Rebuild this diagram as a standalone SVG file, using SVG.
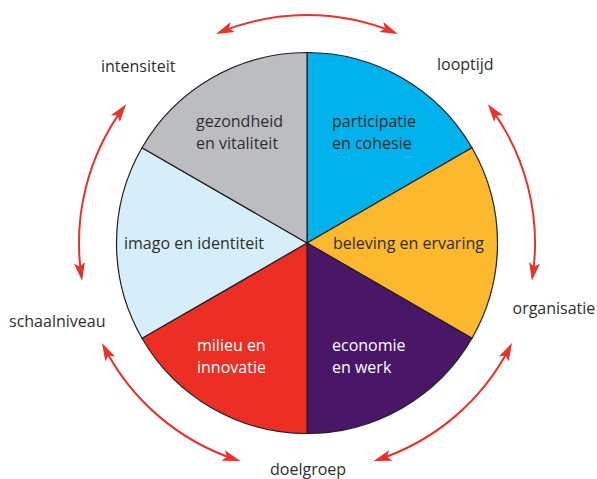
<svg xmlns="http://www.w3.org/2000/svg" width="597" height="479" viewBox="0 0 597 479">
<style>
  .lbl { font-family: "Open Sans", "Noto Sans", sans-serif; font-size: 16px; fill: #2e2e2e; }
  .lt { fill: #ffffff; }
  .wedge { stroke: #231f20; stroke-width: 1.2; stroke-linejoin: round; }
  .arc { fill: none; stroke: #e8322a; stroke-width: 2; marker-start: url(#ah); marker-end: url(#ah); }
</style>
<defs>
  <marker id="ah" markerUnits="userSpaceOnUse" markerWidth="20" markerHeight="14" viewBox="0 -7 20 14" refX="14" refY="0" orient="auto-start-reverse">
    <path d="M0,-5.5 L18,0 L0,5.5 L4,0 Z" fill="#e8322a"/>
  </marker>
</defs>
<rect width="597" height="479" fill="#ffffff"/>

<g id="participatie">
  <path class="wedge" d="M307,243 L307,52.5 A190.5,190.5 0 0 1 471.98,147.75 Z" fill="#00b2ec"/>
  <text class="lbl" x="332" y="127">participatie</text>
  <text class="lbl" x="332" y="148.5">en cohesie</text>
</g>
<g id="beleving">
  <path class="wedge" d="M307,243 L471.98,147.75 A190.5,190.5 0 0 1 471.98,338.25 Z" fill="#fcb92d"/>
  <text class="lbl" x="333" y="249">beleving en ervaring</text>
</g>
<g id="economie">
  <path class="wedge" d="M307,243 L471.98,338.25 A190.5,190.5 0 0 1 307,433.5 Z" fill="#4a1768"/>
  <text class="lbl lt" x="332" y="351">economie</text>
  <text class="lbl lt" x="332" y="372.5">en werk</text>
</g>
<g id="milieu">
  <path class="wedge" d="M307,243 L307,433.5 A190.5,190.5 0 0 1 142.02,338.25 Z" fill="#ec2e24"/>
  <text class="lbl lt" x="197" y="351">milieu en</text>
  <text class="lbl lt" x="197" y="372.5">innovatie</text>
</g>
<g id="imago">
  <path class="wedge" d="M307,243 L142.02,338.25 A190.5,190.5 0 0 1 142.02,147.75 Z" fill="#d6edfa"/>
  <text class="lbl" x="124" y="249">imago en identiteit</text>
</g>
<g id="gezondheid">
  <path class="wedge" d="M307,243 L142.02,147.75 A190.5,190.5 0 0 1 307,52.5 Z" fill="#bcbdc0"/>
  <text class="lbl" x="196" y="127">gezondheid</text>
  <text class="lbl" x="196" y="148.5">en vitaliteit</text>
</g>

<g id="intensiteit"><text class="lbl" x="101" y="72">intensiteit</text></g>
<g id="looptijd"><text class="lbl" x="437" y="69.5">looptijd</text></g>
<g id="organisatie"><text class="lbl" x="512.5" y="313.5">organisatie</text></g>
<g id="doelgroep"><text class="lbl" x="270" y="474.5">doelgroep</text></g>
<g id="schaalniveau"><text class="lbl" x="9" y="327">schaalniveau</text></g>

<g id="connectors">
  <path class="arc" d="M219.75,32.36 A228,228 0 0 1 394.25,32.36"/>
  <path class="arc" d="M490.28,107.38 A228,228 0 0 1 532.5,276.7"/>
  <path class="arc" d="M510.15,346.51 A228,228 0 0 1 377.46,459.84"/>
  <path class="arc" d="M236.54,459.84 A228,228 0 0 1 103.85,346.51"/>
  <path class="arc" d="M81.5,276.7 A228,228 0 0 1 123.72,107.38"/>
</g>
</svg>
